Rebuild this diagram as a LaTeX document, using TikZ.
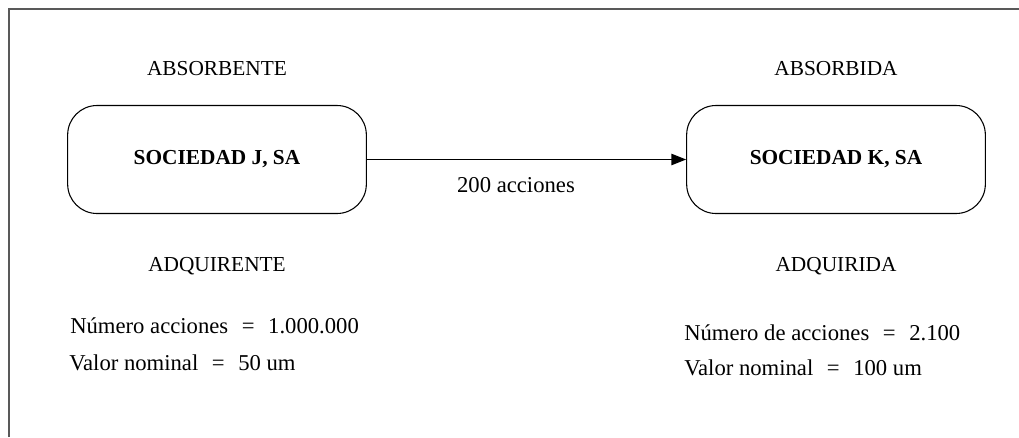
\documentclass[tikz,border=0pt]{standalone}
\usepackage{fontspec}
\setmainfont{Liberation Serif}
\usetikzlibrary{positioning,arrows.meta}

\newcommand{\igual}{\hspace{0.6em}=\hspace{0.6em}}

\begin{document}
\begin{tikzpicture}[
    x=0.75pt, y=-0.75pt,
    font=\fontsize{17}{20}\selectfont,
    sociedad/.style={
        draw,
        rounded corners=22pt,
        minimum width=224pt,
        minimum height=81pt,
        line width=0.8pt,
        font=\fontsize{16}{19}\selectfont\bfseries
    },
    rol/.style={
        inner sep=0pt,
        text height=12pt,
        text depth=0pt,
        font=\fontsize{16}{19}\selectfont
    },
    dato/.style={anchor=base west, inner sep=0pt},
    flecha/.style={-{Triangle[length=11pt,width=8.5pt]}, line width=0.8pt}
]
    \useasboundingbox (0,0) rectangle (1019,437);
    %% Marco
    \draw[line width=1.4pt, black!65] (9,437) -- (9,9) -- (1019,9);

    %% Sociedades
    \node[sociedad] (socJ) at (217,159.5) {SOCIEDAD J, SA};
    \node[sociedad] (socK) at (836,159.5) {SOCIEDAD K, SA};

    %% Papeles
    \node[rol, above=21.75pt of socJ] (absorbente) {ABSORBENTE};
    \node[rol, below=30.75pt of socJ] (adquirente) {ADQUIRENTE};
    \node[rol, above=21.75pt of socK] (absorbida) {ABSORBIDA};
    \node[rol, below=30.75pt of socK] (adquirida) {ADQUIRIDA};

    %% Datos
    \node[dato] (accJ) at (70,333) {Número acciones\igual 1.000.000};
    \node[dato] (nomJ) at (69,370) {Valor nominal\igual 50 um};
    \node[dato] (accK) at (684,340) {Número de acciones\igual 2.100};
    \node[dato] (nomK) at (684,375) {Valor nominal\igual 100 um};

    %% Flecha
    \draw[flecha] (socJ) -- node[pos=0.467, below=10pt] (acciones) {200 acciones} (socK);
\end{tikzpicture}
\end{document}
